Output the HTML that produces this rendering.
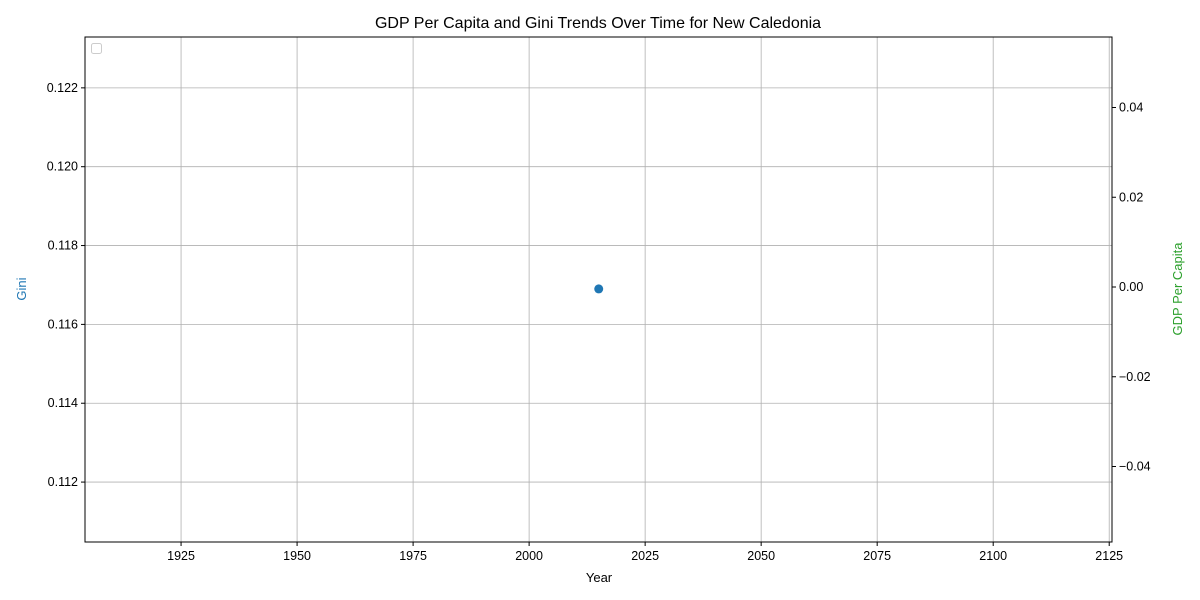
<!DOCTYPE html>
<html><head><meta charset="utf-8"><style>
html,body{margin:0;padding:0;background:#fff;}
svg{display:block;font-family:"Liberation Sans","DejaVu Sans",sans-serif;}
</style></head><body>
<svg id="chart" width="1200" height="600" viewBox="0 0 1200 600">
<rect x="0" y="0" width="1200" height="600" fill="#fff"/>
<text x="598" y="28" font-size="16" text-anchor="middle">GDP Per Capita and Gini Trends Over Time for New Caledonia</text>
<g id="grid"></g>
<g id="marks"></g>
<rect x="85" y="37" width="1027" height="505" fill="none" stroke="#000" stroke-width="1"/>
<g id="axes"></g>
<rect x="91.5" y="43.5" width="10" height="10" rx="2" fill="#fff" stroke="#ccc"/>
<text x="599" y="582" font-size="13" text-anchor="middle">Year</text>
<text transform="translate(26,289) rotate(-90)" font-size="13" fill="#1f77b4" text-anchor="middle">Gini</text>
<text transform="translate(1182,289) rotate(-90)" font-size="13" fill="#2ca02c" text-anchor="middle">GDP Per Capita</text>
</svg>
<script>
const years = [2015];
const giniValues = [0.1169];
const xTicks = [1925, 1950, 1975, 2000, 2025, 2050, 2075, 2100, 2125];
const yLeftTicks = [0.112, 0.114, 0.116, 0.118, 0.120, 0.122];
const yRightTicks = [-0.04, -0.02, 0.00, 0.02, 0.04];

const NS = "http://www.w3.org/2000/svg";
const L = 85, R = 1112, T = 37, B = 542;
const xMin = 1904.3, xMax = 2125.6;
const yMin = 0.11048, yMax = 0.12329;
const xs = v => L + (v - xMin) / (xMax - xMin) * (R - L);
const ys = v => B - (v - yMin) / (yMax - yMin) * (B - T);
const yr = v => 287 - v / 0.02 * 89.75;

function mk(tag, attrs, parent) {
  const e = document.createElementNS(NS, tag);
  for (const k in attrs) e.setAttribute(k, attrs[k]);
  parent.appendChild(e);
  return e;
}
const grid = document.getElementById('grid');
const axes = document.getElementById('axes');
const marks = document.getElementById('marks');

xTicks.forEach(t => {
  const x = xs(t);
  const g = mk('line', {x1: x, x2: x, y1: T, y2: B, stroke: '#b0b0b0', 'stroke-width': 0.8}, grid);
  
  
  const tk = mk('line', {x1: x, x2: x, y1: B, y2: B + 4, stroke: '#000'}, axes);
  
  
  const lb = mk('text', {x: x, y: B + 18, 'font-size': 12.5, 'text-anchor': 'middle'}, axes);
  lb.textContent = t;
  
  
});
yLeftTicks.forEach(t => {
  const y = ys(t);
  const g = mk('line', {x1: L, x2: R, y1: y, y2: y, stroke: '#b0b0b0', 'stroke-width': 0.8}, grid);
  
  
  const tk = mk('line', {x1: L - 4, x2: L, y1: y, y2: y, stroke: '#000'}, axes);
  
  
  const lb = mk('text', {x: L - 7, y: y + 4, 'font-size': 12.5, 'text-anchor': 'end'}, axes);
  lb.textContent = t.toFixed(3);
  
  
});
yRightTicks.forEach(t => {
  const y = yr(t);
  const tk = mk('line', {x1: R, x2: R + 4, y1: y, y2: y, stroke: '#000'}, axes);
  
  
  const lb = mk('text', {x: R + 7, y: y + 4, 'font-size': 12.5, 'text-anchor': 'start'}, axes);
  lb.textContent = (t < 0 ? '\u2212' : '') + Math.abs(t).toFixed(2);
  
  
});
years.forEach((yv, i) => {
  const c = mk('circle', {cx: xs(yv), cy: ys(giniValues[i]), r: 4.5, fill: '#1f77b4'}, marks);
  
  
});
</script>
</body></html>
